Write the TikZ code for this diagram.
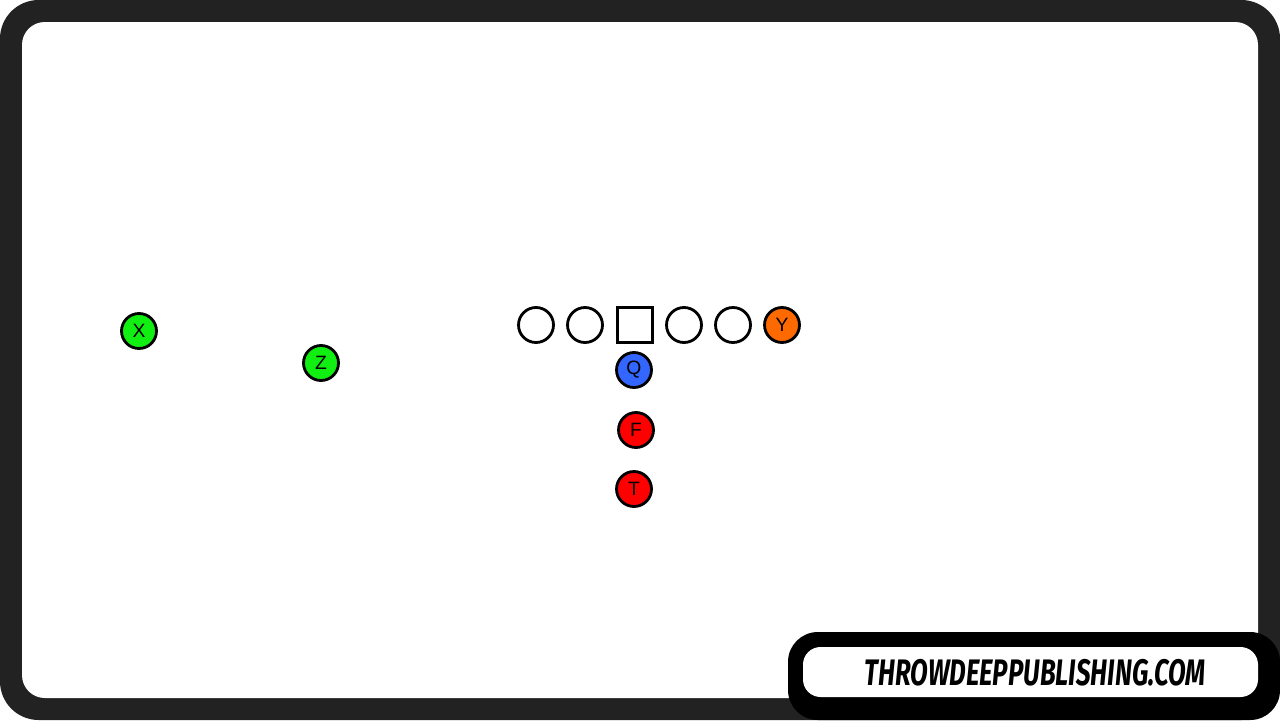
\documentclass[tikz,border=0pt]{standalone}
\usepackage{fontspec}
\setmainfont{Liberation Sans}
\newfontfamily\badgefont{Fira Sans}
\usepackage{xcolor}
\usepackage{tikz}

\definecolor{framegray}{HTML}{222222}
\definecolor{wrgreen}{HTML}{11EE11}
\definecolor{qbblue}{HTML}{3366FF}
\definecolor{rbred}{HTML}{FF0000}
\definecolor{teorange}{HTML}{FF6A00}

\tikzset{
	player/.style={circle, draw=black, line width=1.6pt, minimum size=0.70cm, inner sep=0pt, font=\fontsize{11}{11}\selectfont},
	center/.style={rectangle, draw=black, line width=1.6pt, minimum size=0.70cm, inner sep=0pt}
}

\begin{document}
\begin{tikzpicture}[x=0.02cm, y=-0.02cm]
	\useasboundingbox (0,0) rectangle (1280,720);
	% frame
	\fill[white] (0,0) rectangle (1280,720);
	\fill[framegray, rounded corners=22pt] (0,0) rectangle (1280,720);
	\fill[white, rounded corners=13pt] (22,22) rectangle (1258,698);
	% offensive line
	\node[player] (lt) at (536,325) {};
	\node[player] (lg) at (585,325) {};
	\node[center] (c) at (635,325) {};
	\node[player] (rg) at (684,325) {};
	\node[player] (rt) at (733,325) {};
	\node[player, fill=teorange] (y) at (782,325) {Y};
	% backfield
	\node[player, fill=qbblue] (q) at (634,370) {Q};
	\node[player, fill=rbred] (f) at (636,430) {F};
	\node[player, fill=rbred] (t) at (634,489) {T};
	% receivers
	\node[player, fill=wrgreen] (x) at (139,331) {X};
	\node[player, fill=wrgreen] (z) at (321,363) {Z};
	% badge
	\fill[black, rounded corners=17pt] (788,632) rectangle (1280,720);
	\fill[white, rounded corners=10pt] (803,647) rectangle (1258,697);
	\node (site) at (1035,673) {\scalebox{0.70}[1]{\badgefont\bfseries\itshape\fontsize{21}{21}\selectfont THROWDEEPPUBLISHING.COM}};
\end{tikzpicture}
\end{document}
